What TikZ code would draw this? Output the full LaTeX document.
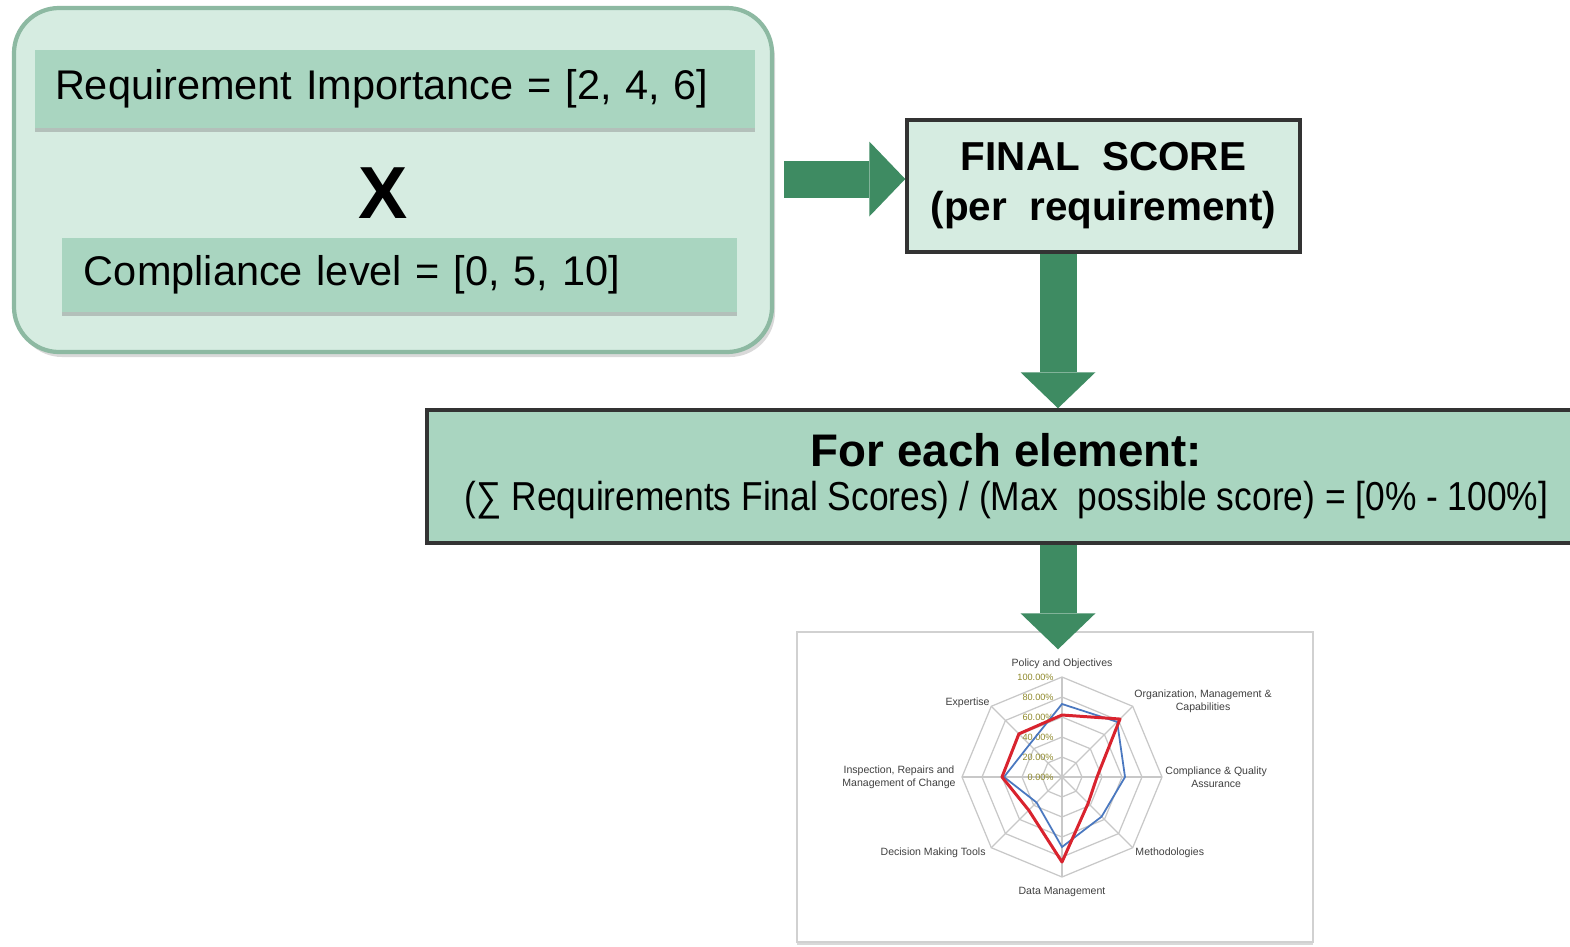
\documentclass[tikz,border=0pt]{standalone}
\usepackage{fontspec}
\setmainfont{Liberation Sans}
\newfontfamily\narrowfont{Liberation Sans}[FakeStretch=0.875]
\usetikzlibrary{positioning,shadows,arrows.meta}
\definecolor{mint}{HTML}{D6ECE1}
\definecolor{sage}{HTML}{A9D5C0}
\definecolor{leaf}{HTML}{3E8B62}
\definecolor{rim}{HTML}{8DB9A2}
\definecolor{gridgray}{HTML}{C8C8C8}
\definecolor{chartred}{HTML}{D9232E}
\definecolor{chartblue}{HTML}{4A78C0}

\begin{document}
\begin{tikzpicture}
    \tikzstyle{panel} = [rectangle, draw=rim, line width=1.2pt, fill=mint, rounded corners=0.45cm, drop shadow={shadow xshift=0.03cm, shadow yshift=-0.05cm, opacity=0.3}]
    \tikzstyle{factor} = [rectangle, fill=sage, font=\fontsize{11.8}{14}\selectfont, align=left, inner xsep=0.2cm, inner ysep=0pt, drop shadow={shadow xshift=0pt, shadow yshift=-0.04cm, opacity=0.4}]
    \tikzstyle{result} = [rectangle, draw=black!80, line width=1pt, align=center]
    \tikzstyle{fatarrow} = [draw=leaf, line width=0.37cm, -{Triangle[length=0.36cm, width=0.75cm, line width=0pt 0, fill=leaf]}]
    \tikzstyle{grid} = [draw=gridgray, line width=0.35pt]
    \tikzstyle{axislabel} = [font=\fontsize{3}{3.6}\selectfont, text=black!75, align=center, inner sep=0.5pt]
    \tikzstyle{tick} = [font=\fontsize{2.6}{3}\selectfont, text=olive!70!gray, inner sep=0.5pt]

    \useasboundingbox (0,0) rectangle (15.70,-9.46);

    \node [panel, minimum width=7.58cm, minimum height=3.44cm] (multiply) at (3.93,-1.80) {};
    \node [factor, minimum width=7.20cm, minimum height=0.78cm, text width=6.80cm] (importance) at (3.95,-0.89) {Requirement Importance = [2, 4, 6]};
    \node [font=\fontsize{21}{24}\selectfont\bfseries] (times) at (3.83,-1.93) {X};
    \node [factor, minimum width=6.75cm, minimum height=0.74cm, text width=6.31cm] (compliance) at (3.995,-2.75) {Compliance level = [0, 5, 10]};

    \node [result, fill=mint, minimum width=3.93cm, minimum height=1.32cm, font=\fontsize{11.5}{14.2}\selectfont\bfseries] (final) at (11.035,-1.86) {FINAL\ \ SCORE\\(per\ \ requirement)};

    \node [result, fill=sage, minimum width=11.45cm, minimum height=1.33cm, inner sep=0pt] (element) at (9.995,-4.765) {{\fontsize{13}{14}\selectfont\bfseries\hspace{0.14cm}For each element:}\\[0.5pt]{\fontsize{11.5}{14}\selectfont\narrowfont\hspace{0.14cm}(∑ Requirements Final Scores) / (Max\ \ possible score) = [0\% - 100\%]}};

    \node [rectangle, draw=black!18, fill=white, minimum width=5.16cm, minimum height=3.10cm, drop shadow={shadow xshift=0pt, shadow yshift=-0.03cm, opacity=0.3}] (chart) at (10.55,-7.87) {};
    \coordinate (spine) at (10.58,0);
    \coordinate (hub) at (10.62,-7.77);

    \draw [fatarrow] ([xshift=0.1cm]multiply.east |- 0,-1.79) -- (final.west |- 0,-1.79);
    \draw [fatarrow] (final.south -| spine) -- (element.north -| spine);
    \draw [fatarrow, shorten >=-0.18cm] (element.south -| spine) -- (chart.north -| spine);

    \begin{scope}[shift={(hub)}]
        \foreach \r in {0.2,0.4,0.6,0.8,1.0}
            \draw [grid] (90:\r) \foreach \a in {45,0,-45,-90,-135,-180,-225} { -- (\a:\r)} -- cycle;
        \foreach \a in {90,45,...,-225}
            \draw [grid] (0,0) -- (\a:1);
        \foreach \r/\t in {0/0.00, 0.2/20.00, 0.4/40.00, 0.6/60.00, 0.8/80.00, 1.0/100.00}
            \node [tick, anchor=east] at (-0.06,\r) {\t\%};
        \draw [chartblue, line width=0.5pt] (90:0.73) -- (45:0.78) -- (0:0.63) -- (-45:0.56) -- (-90:0.70) -- (-135:0.36) -- (-180:0.58) -- (-225:0.46) -- cycle;
        \draw [chartred, line width=0.85pt, line join=round] (90:0.62) -- (45:0.82) -- (0:0.35) -- (-45:0.37) -- (-90:0.85) -- (-135:0.47) -- (-180:0.60) -- (-225:0.61) -- cycle;

        \node [axislabel, above] (lpolicy) at (0,1.06) {Policy and Objectives};
        \node [axislabel, anchor=west] (lorg) at (0.70,0.76) {Organization, Management \&\\Capabilities};
        \node [axislabel, anchor=west] (lqual) at (1.01,0) {Compliance \& Quality\\Assurance};
        \node [axislabel, anchor=west] (lmeth) at (0.71,-0.76) {Methodologies};
        \node [axislabel, below] (ldata) at (0,-1.08) {Data Management};
        \node [axislabel, anchor=east] (ltools) at (-0.74,-0.76) {Decision Making Tools};
        \node [axislabel, anchor=east] (linsp) at (-1.04,0) {Inspection, Repairs and\\Management of Change};
        \node [axislabel, anchor=east] (lexp) at (-0.70,0.74) {Expertise};
    \end{scope}
\end{tikzpicture}
\end{document}
